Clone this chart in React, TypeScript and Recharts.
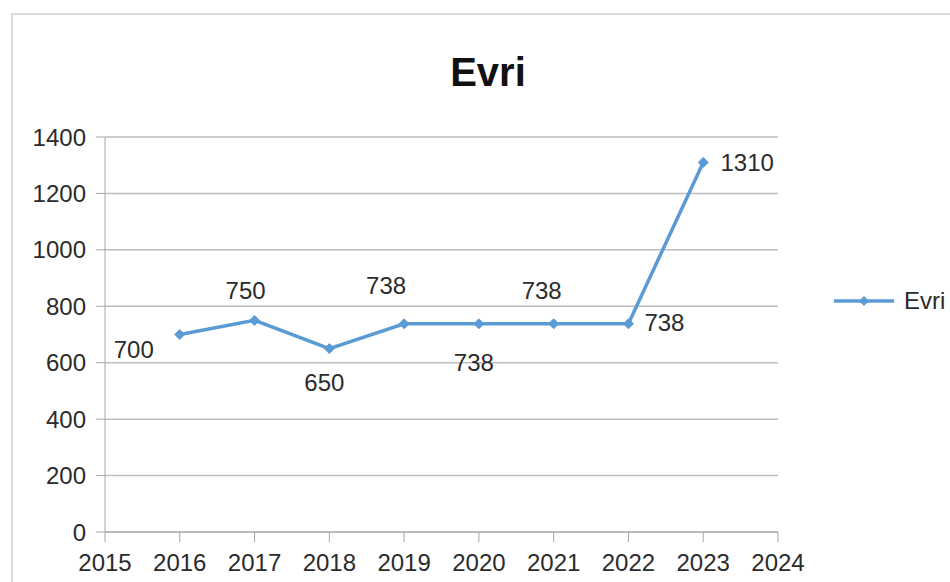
import React from 'react';
import {
  LineChart,
  Line,
  XAxis,
  YAxis,
  CartesianGrid,
  Legend,
  LabelList,
} from 'recharts';

const years = [2016, 2017, 2018, 2019, 2020, 2021, 2022, 2023];
const evriValues = [700, 750, 650, 738, 738, 738, 738, 1310];
const xTicks = [2015, 2016, 2017, 2018, 2019, 2020, 2021, 2022, 2023, 2024];
const yTicks = [0, 200, 400, 600, 800, 1000, 1200, 1400];

// label placement around each point (dx, dy of the text centre), as in the original
const labelOffsets: [number, number][] = [
  [-46, 15],
  [-9, -30],
  [-5, 34],
  [-18, -38],
  [-5, 39],
  [-12, -33],
  [36, -1],
  [44, 0],
];

const data = years.map((year, i) => ({ year, Evri: evriValues[i] }));

const BLUE = '#5B9BD5';
const FONT = '"Liberation Sans", Arial, sans-serif';
const TEXT = '#2b2b2b';

function Diamond(props: any) {
  const { cx, cy, index } = props;
  if (cx == null || cy == null) return null;
  const r = 5;
  return (
    <path
      key={`dot-${index}`}
      d={`M${cx},${cy - r} L${cx + r},${cy} L${cx},${cy + r} L${cx - r},${cy} Z`}
      fill={BLUE}
      stroke={BLUE}
      strokeWidth={1}
    />
  );
}

function PointLabel(props: any) {
  const { x, y, value, index } = props;
  const [dx, dy] = labelOffsets[index] ?? [0, -20];
  return (
    <text
      x={x + dx}
      y={y + dy}
      textAnchor="middle"
      dominantBaseline="central"
      fill={TEXT}
      fontSize={24}
      fontFamily={FONT}
    >
      {value}
    </text>
  );
}

function LegendContent(props: any) {
  const { payload } = props;
  return (
    <div style={{ display: 'flex', alignItems: 'center' }}>
      {(payload ?? []).map((entry: any) => (
        <div key={entry.value} style={{ display: 'flex', alignItems: 'center' }}>
          <svg width={62} height={14}>
            <line x1={0} y1={7} x2={60} y2={7} stroke={BLUE} strokeWidth={3.5} />
            <path d="M30,2 L35,7 L30,12 L25,7 Z" fill={BLUE} />
          </svg>
          <span
            style={{
              marginLeft: 8,
              fontSize: 24,
              fontFamily: FONT,
              color: TEXT,
              lineHeight: '28px',
            }}
          >
            {entry.value}
          </span>
        </div>
      ))}
    </div>
  );
}

export default function App() {
  return (
    <div
      style={{
        position: 'absolute',
        left: 0,
        top: 0,
        width: 950,
        height: 582,
        background: '#fff',
        overflow: 'hidden',
      }}
    >
      <div
        style={{
          position: 'absolute',
          left: 11,
          top: 13,
          width: 960,
          height: 600,
          border: '2px solid #dcdcdc',
        }}
      />
      <div
        style={{
          position: 'absolute',
          left: 0,
          width: 976,
          top: 52,
          textAlign: 'center',
          fontFamily: FONT,
          fontWeight: 'bold',
          fontSize: 40,
          lineHeight: '40px',
          color: '#111',
        }}
      >
        Evri
      </div>
      <div style={{ position: 'absolute', left: 0, top: 0 }}>
        <LineChart
          width={950}
          height={582}
          data={data}
          margin={{ top: 137, right: 172, left: 15, bottom: 10 }}
        >
          <CartesianGrid vertical={false} stroke="#bdbdbd" strokeWidth={1.5} />
          <XAxis
            dataKey="year"
            type="number"
            domain={[2015, 2024]}
            ticks={xTicks}
            interval={0}
            height={40}
            tickSize={10}
            tickMargin={12}
            stroke="#a6a6a6"
            tick={{ fill: TEXT, fontSize: 24, fontFamily: FONT }}
          />
          <YAxis
            domain={[0, 1400]}
            ticks={yTicks}
            interval={0}
            width={90}
            tickSize={9}
            tickMargin={10}
            stroke="#a6a6a6"
            tick={{ fill: TEXT, fontSize: 24, fontFamily: FONT }}
          />
          <Legend
            layout="vertical"
            align="center"
            verticalAlign="middle"
            wrapperStyle={{ left: 834, top: 287, width: 116 }}
            content={<LegendContent />}
          />
          <Line
            type="linear"
            dataKey="Evri"
            name="Evri"
            stroke={BLUE}
            strokeWidth={3.5}
            dot={Diamond}
            activeDot={false}
            isAnimationActive={false}
          >
            <LabelList dataKey="Evri" content={<PointLabel />} />
          </Line>
        </LineChart>
      </div>
    </div>
  );
}
